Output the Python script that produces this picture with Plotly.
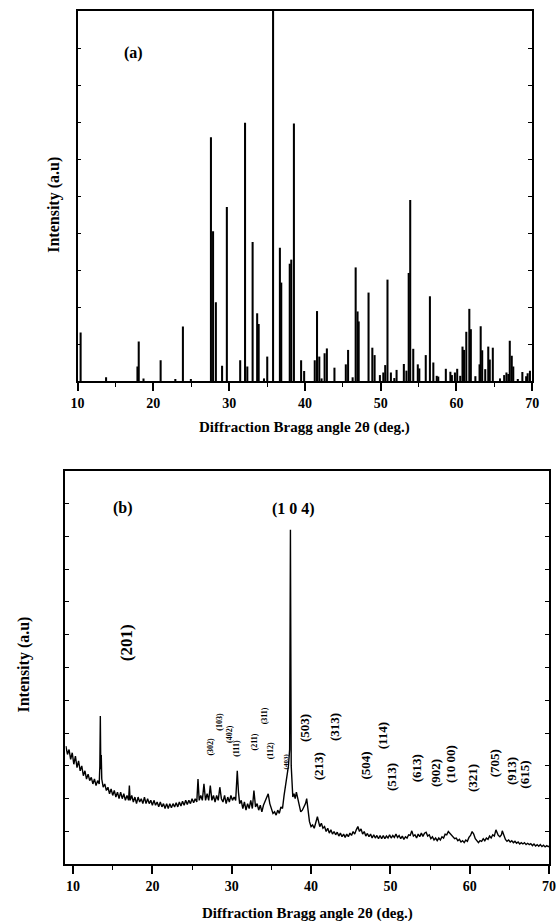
import plotly.graph_objects as go

# ---------------- Panel (a): reference stick pattern ----------------
A_POS = [10.4, 13.76, 17.9, 18.07, 18.7, 20.96, 22.9, 23.9, 24.95, 27.6, 27.88, 28.25,
         29.07, 29.7, 31.46, 32.1, 32.4, 33.1, 33.7, 33.9, 34.6, 35.03, 35.8, 36.7,
         36.88, 38.0, 38.2, 38.55, 39.5, 39.9, 41.3, 41.6, 41.9, 42.2, 42.6, 42.9,
         43.9, 45.4, 45.7, 46.3, 46.7, 46.95, 47.1, 48.4, 48.9, 49.2, 49.9, 50.35,
         50.6, 50.9, 51.35, 51.8, 52.1, 53.06, 53.4, 53.7, 53.9, 54.3, 54.9, 55.1,
         55.95, 56.5, 56.95, 57.4, 57.6, 58.6, 59.2, 59.4, 59.8, 60.1, 60.5, 60.8,
         61.0, 61.3, 61.7, 61.9, 62.5, 63.05, 63.2, 63.4, 63.8, 64.2, 64.4, 64.8,
         65.75, 66.3, 66.6, 66.85, 67.04, 67.3, 67.5, 68.1, 68.7, 69.2, 69.4, 69.7]
A_INT = [13.1, 1.0, 3.9, 10.7, 0.7, 5.6, 0.4, 14.7, 0.3, 65.9, 40.5, 21.3,
         4.1, 47.0, 5.6, 69.8, 3.9, 37.6, 18.3, 15.4, 0.7, 6.6, 100.0, 36.0,
         26.6, 31.7, 32.8, 69.6, 5.6, 2.7, 5.6, 18.9, 6.6, 0.7, 7.5, 8.8,
         3.6, 4.5, 8.4, 1.0, 30.7, 18.8, 16.1, 23.9, 9.0, 7.0, 1.6, 2.3,
         4.3, 27.4, 2.3, 0.8, 3.0, 4.6, 2.8, 29.2, 48.9, 8.7, 4.5, 3.4,
         7.0, 22.9, 5.0, 1.4, 1.2, 3.3, 2.5, 1.6, 2.3, 3.3, 1.4, 9.3,
         8.4, 13.3, 19.5, 14.0, 1.3, 4.5, 14.8, 8.3, 3.2, 9.3, 5.8, 9.0,
         0.7, 1.6, 2.3, 1.9, 10.9, 6.8, 3.9, 0.4, 2.4, 1.3, 2.1, 2.8]

# ---------------- Panel (b): measured pattern ----------------
B_X = [9.1, 9.3, 9.5, 9.7, 9.9, 10.1, 10.3, 10.5, 10.7, 10.9, 11.1, 11.3, 11.5, 11.7, 11.9,
       12.1, 12.3, 12.5, 12.7, 12.9, 13.1, 13.3, 13.38, 13.44, 13.5, 13.56, 13.62, 13.8,
       14.0, 14.2, 14.4, 14.6, 14.8, 15.0, 15.2, 15.4, 15.6, 15.8, 16.0, 16.2, 16.4, 16.6,
       16.8, 17.0, 17.1, 17.2, 17.4, 17.6, 17.8, 18.0, 18.2, 18.4, 18.6, 18.8, 19.0, 19.2,
       19.4, 19.6, 19.8, 20.0, 20.2, 20.4, 20.6, 20.8, 21.0, 21.2, 21.4, 21.6, 21.8, 22.0,
       22.2, 22.4, 22.6, 22.8, 23.0, 23.2, 23.4, 23.6, 23.8, 24.0, 24.2, 24.4, 24.6, 24.8,
       25.0, 25.2, 25.4, 25.6, 25.75, 25.9, 26.1, 26.3, 26.5, 26.7, 26.9, 27.1, 27.3, 27.5,
       27.7, 27.9, 28.1, 28.3, 28.5, 28.7, 28.9, 29.1, 29.3, 29.5, 29.7, 29.9, 30.1, 30.3,
       30.5, 30.7, 30.85, 31.0, 31.2, 31.4, 31.6, 31.8, 32.0, 32.2, 32.4, 32.6, 32.8, 33.0,
       33.2, 33.4, 33.6, 33.8, 34.0, 34.2, 34.4, 34.6, 34.8, 35.0, 35.2, 35.4, 35.6, 35.8,
       36.0, 36.2, 36.4, 36.6, 36.8, 37.0, 37.15, 37.3, 37.4, 37.5, 37.6, 37.7, 37.85, 38.0,
       38.15, 38.3, 38.5, 38.7, 38.9, 39.1, 39.3, 39.45, 39.6, 39.8, 40.0, 40.2, 40.4, 40.6,
       40.8, 40.95, 41.1, 41.3, 41.5, 41.7, 41.9, 42.1, 42.3, 42.5, 42.7, 42.9, 43.1, 43.3,
       43.5, 43.7, 43.9, 44.1, 44.3, 44.5, 44.7, 44.9, 45.1, 45.3, 45.5, 45.7, 45.9, 46.1,
       46.3, 46.5, 46.7, 46.9, 47.1, 47.3, 47.5, 47.7, 47.9, 48.1, 48.3, 48.5, 48.7, 48.9,
       49.1, 49.3, 49.5, 49.7, 49.9, 50.1, 50.3, 50.5, 50.7, 50.9, 51.1, 51.3, 51.5, 51.7,
       51.9, 52.1, 52.3, 52.5, 52.7, 52.9, 53.1, 53.3, 53.5, 53.7, 53.9, 54.1, 54.3, 54.5,
       54.7, 54.9, 55.1, 55.3, 55.5, 55.7, 55.9, 56.1, 56.3, 56.5, 56.7, 56.9, 57.1, 57.3,
       57.5, 57.7, 57.9, 58.1, 58.3, 58.5, 58.7, 58.9, 59.1, 59.3, 59.5, 59.7, 59.9, 60.1,
       60.3, 60.5, 60.7, 60.9, 61.1, 61.3, 61.5, 61.7, 61.9, 62.1, 62.3, 62.5, 62.7, 62.9,
       63.1, 63.3, 63.45, 63.6, 63.8, 64.0, 64.1, 64.3, 64.5, 64.7, 64.9, 65.1, 65.3, 65.5,
       65.7, 65.9, 66.1, 66.3, 66.5, 66.7, 66.9, 67.1, 67.3, 67.5, 67.7, 67.9, 68.1, 68.3,
       68.5, 68.7, 68.9, 69.1, 69.3, 69.5, 69.7, 69.9, 70.0]
B_Y = [3.6, 3.35, 3.5, 3.2, 3.4, 3.05, 3.3, 2.95, 3.15, 2.85, 3.0, 2.7, 2.85, 2.6, 2.75,
       2.55, 2.65, 2.45, 2.6, 2.4, 2.55, 2.45, 3.0, 4.52, 2.9, 3.33, 2.6, 2.35,
       2.45, 2.25, 2.35, 2.15, 2.3, 2.1, 2.25, 2.05, 2.2, 2.0, 2.2, 2.0, 2.15, 1.95,
       2.1, 1.95, 2.4, 1.95, 2.1, 1.9, 2.05, 1.85, 2.05, 1.9, 2.0, 1.85, 2.05, 1.85,
       2.0, 1.85, 1.95, 1.8, 1.95, 1.8, 1.9, 1.75, 1.9, 1.75, 1.85, 1.7, 1.85, 1.7,
       1.85, 1.72, 1.85, 1.75, 1.88, 1.75, 1.9, 1.78, 1.92, 1.8, 1.95, 1.82, 1.95, 1.85,
       2.0, 1.88, 2.0, 1.9, 2.6, 1.95, 2.1, 1.95, 2.45, 1.95, 2.15, 1.95, 2.4, 1.95,
       2.1, 1.9, 2.1, 1.95, 2.35, 2.0, 1.9, 2.1, 1.85, 2.05, 1.9, 2.1, 1.95, 2.05,
       1.95, 2.85, 2.2, 1.85, 1.95, 1.7, 1.9, 1.65, 1.85, 1.7, 1.95, 1.7, 2.25, 1.75,
       1.85, 1.65, 1.8, 1.6, 1.8, 1.9, 2.0, 2.15, 1.85, 1.7, 1.55, 1.6, 1.5, 1.65,
       1.55, 1.75, 1.7, 2.1, 2.45, 2.75, 3.0, 3.5, 10.2, 3.0, 2.4, 2.05, 2.15, 2.0,
       2.2, 2.05, 1.8, 1.6, 1.65, 1.75, 1.85, 2.0, 1.6, 1.3, 1.15, 1.2, 1.1, 1.25,
       1.45, 1.3, 1.15, 1.25, 1.1, 1.15, 1.0, 1.1, 0.95, 1.05, 0.92, 1.0, 0.9, 0.98,
       0.86, 0.95, 0.84, 0.92, 0.82, 0.92, 0.84, 0.95, 0.88, 1.0, 0.92, 1.05, 1.15, 1.0,
       1.08, 0.92, 1.0, 0.86, 0.94, 0.84, 0.92, 0.8, 0.9, 0.8, 0.88, 0.78, 0.88, 0.78,
       0.88, 0.78, 0.86, 0.8, 0.9, 0.8, 0.88, 0.82, 0.92, 0.82, 0.88, 0.78, 0.86, 0.76,
       0.84, 0.8, 0.9, 0.88, 1.02, 0.86, 0.9, 0.8, 0.92, 0.84, 0.95, 0.85, 0.95, 0.98,
       0.86, 0.9, 0.78, 0.84, 0.74, 0.8, 0.72, 0.8, 0.74, 0.84, 0.8, 0.92, 0.9, 1.0,
       0.95, 0.88, 0.84, 0.78, 0.8, 0.72, 0.76, 0.68, 0.72, 0.66, 0.74, 0.7, 0.82, 0.88,
       1.0, 0.92, 0.78, 0.72, 0.66, 0.72, 0.7, 0.78, 0.72, 0.8, 0.76, 0.86, 0.8, 0.9,
       0.86, 1.05, 0.95, 0.88, 0.84, 0.9, 1.02, 0.86, 0.76, 0.7, 0.74, 0.68, 0.72, 0.66,
       0.7, 0.64, 0.68, 0.62, 0.66, 0.62, 0.66, 0.6, 0.64, 0.6, 0.63, 0.57, 0.62, 0.56,
       0.6, 0.55, 0.6, 0.54, 0.58, 0.53, 0.57, 0.54, 0.56]

# peak labels for panel (b)
B_LABELS = ["(201)", "(302)", "(103)", "(402)", "(111)", "(211)", "(311)", "(112)", "(403)",
            "(503)", "(213)", "(313)", "(504)", "(114)", "(513)", "(613)", "(902)", "(10 00)",
            "(321)", "(705)", "(913)", "(615)"]
B_LAB_X = [16.83, 27.39, 28.5, 29.65, 30.67, 32.88, 34.11, 34.85, 36.9,
           39.27, 40.93, 43.04, 46.89, 48.98, 50.08, 53.4, 55.61, 57.65,
           60.28, 63.23, 65.19, 66.91]
B_LAB_Y = [6.75, 3.59, 4.34, 3.97, 3.52, 3.73, 4.52, 3.45, 3.15,
           4.16, 3.0, 4.19, 3.0, 3.91, 2.66, 2.94, 2.78, 3.06,
           2.63, 3.09, 2.84, 2.72]
B_LAB_SIZE = [17, 8, 8, 8, 8, 8, 8, 8, 7,
              13, 13, 13, 13, 13, 13, 13, 13, 13,
              13, 13, 13, 13]

FONT = "Liberation Serif, Times New Roman, serif"
W, H = 559, 921

fig = go.Figure()
fig.add_trace(go.Bar(x=A_POS, y=A_INT, width=0.27, marker=dict(color="black", line=dict(width=0)),
                     xaxis="x", yaxis="y", showlegend=False))
fig.add_trace(go.Scatter(x=B_X, y=B_Y, mode="lines", line=dict(color="black", width=1.4),
                         xaxis="x2", yaxis="y2", showlegend=False))

dom_xa = [72.4 / W, 538.7 / W]
dom_ya = [1 - 381 / H, 1 - 11 / H]
dom_xb = [60 / W, 556 / W]
dom_yb = [1 - 864.3 / H, 1 - 470.7 / H]

tickfont = dict(family=FONT, size=14, color="black", weight="bold")
common_x = dict(showgrid=False, zeroline=False, showline=True, linecolor="black", linewidth=1.5,
                mirror=True, ticks="outside", ticklen=8, tickwidth=1.5, tickcolor="black",
                dtick=10, tick0=10, tickfont=tickfont,
                minor=dict(dtick=5, tick0=10, ticks="outside", ticklen=4, tickwidth=1.2, tickcolor="black"))
common_y = dict(showgrid=False, zeroline=False, showline=True, linecolor="black", linewidth=1.5,
                mirror="ticks", ticks="inside", ticklen=4, tickwidth=1.2, tickcolor="black",
                showticklabels=False)
top_x = dict(showgrid=False, zeroline=False, showline=False, ticks="inside", ticklen=4, tickwidth=1.2,
             tickcolor="black", dtick=5, tick0=10, showticklabels=False, side="top")

fig.update_layout(
    width=W, height=H, margin=dict(l=0, r=0, t=0, b=0),
    plot_bgcolor="white", paper_bgcolor="white",
    font=dict(family=FONT, color="black"),
    xaxis=dict(domain=dom_xa, anchor="y", range=[10, 70], **common_x),
    yaxis=dict(domain=dom_ya, anchor="x", range=[0, 100], dtick=10, **common_y),
    xaxis2=dict(domain=dom_xb, anchor="y2", range=[9.05, 70], **common_x),
    yaxis2=dict(domain=dom_yb, anchor="x2", range=[0, 12], dtick=1, **common_y),
    xaxis3=dict(overlaying="x", anchor="y", range=[10, 70], **top_x),
    xaxis4=dict(overlaying="x2", anchor="y2", range=[9.05, 70], **top_x),
)

ann = []
xt = "<b>Diffraction Bragg angle 2θ (deg.)</b>"
ann.append(dict(text=xt, xref="paper", yref="paper", x=305.5 / W, y=1 - 427 / H, showarrow=False,
                font=dict(family=FONT, size=15, color="black"), xanchor="center", yanchor="middle"))
ann.append(dict(text=xt, xref="paper", yref="paper", x=308 / W, y=1 - 913 / H, showarrow=False,
                font=dict(family=FONT, size=15, color="black"), xanchor="center", yanchor="middle"))
ann.append(dict(text="<b>Intensity (a.u)</b>", xref="paper", yref="paper", x=48 / W, y=1 - 205 / H,
                showarrow=False, textangle=-90, font=dict(family=FONT, size=16, color="black"),
                xanchor="center", yanchor="middle"))
ann.append(dict(text="<b>Intensity (a.u)</b>", xref="paper", yref="paper", x=17 / W, y=1 - 665 / H,
                showarrow=False, textangle=-90, font=dict(family=FONT, size=16, color="black"),
                xanchor="center", yanchor="middle"))
ann.append(dict(text="<b>(a)</b>", xref="x", yref="y", x=17.41, y=88.6, showarrow=False,
                font=dict(family=FONT, size=16, color="black")))
ann.append(dict(text="<b>(b)</b>", xref="x2", yref="y2", x=16.35, y=10.86, showarrow=False,
                font=dict(family=FONT, size=16, color="black")))
ann.append(dict(text="<b>(1 0 4)</b>", xref="x2", yref="y2", x=37.8, y=10.82, showarrow=False,
                font=dict(family=FONT, size=16, color="black")))
for t, x, y, s in zip(B_LABELS, B_LAB_X, B_LAB_Y, B_LAB_SIZE):
    ann.append(dict(text="<b>" + t + "</b>", xref="x2", yref="y2", x=x, y=y, showarrow=False,
                    textangle=-90, font=dict(family=FONT, size=s, color="black")))
fig.update_layout(annotations=ann)

fig.write_html("out.html")
